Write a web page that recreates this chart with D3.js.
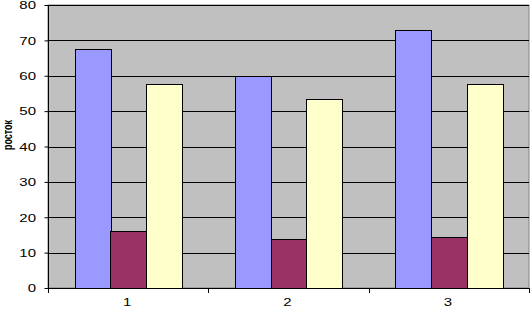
<!DOCTYPE html>
<html><head><meta charset="utf-8">
<script src="https://cdn.jsdelivr.net/npm/d3@7"></script>
<style>body{margin:0;background:#fff}svg{display:block}</style>
</head><body><svg id="c" width="531" height="309"></svg>
<script>
const categories = ["1","2","3"];
const series1 = [67.7, 59.8, 73.0];
const series2 = [16.2, 13.8, 14.3];
const series3 = [57.6, 53.4, 57.6];
const yTicks = [0,10,20,30,40,50,60,70,80];
const colors = ["#9999ff","#993366","#ffffcc"];
const yLabel = "росток";

const FONT = "Arial, Liberation Sans, sans-serif";
const svg = d3.select("#c");
const m = {l:48, r:2, t:5, b:21};
const W = 531, H = 309;
const x = d3.scaleBand().domain(categories).range([m.l, W-m.r]).paddingInner(0).paddingOuter(0);
const y = d3.scaleLinear().domain([0,80]).range([H-m.b, m.t]);
const series = [series1, series2, series3];
const gap = 1.5;
const bw = x.bandwidth()/(3+gap);
const x1 = d3.scaleBand().domain([0,1,2]).range([bw*gap/2, bw*gap/2+3*bw]).padding(0);

svg.append("rect").attr("x",m.l).attr("y",m.t).attr("width",W-m.r-m.l).attr("height",H-m.b-m.t)
  .attr("fill","#c0c0c0").attr("stroke","#808080").attr("stroke-width",1);

svg.append("g").selectAll("line").data(yTicks.filter(d=>d>0)).join("line")
  .attr("x1",m.l).attr("x2",W-m.r).attr("y1",d=>Math.round(y(d))+0.5).attr("y2",d=>Math.round(y(d))+0.5)
  .attr("stroke","#000").attr("stroke-width",1);

series.forEach((s,i)=>{
  svg.append("g").selectAll("rect").data(s).join("rect")
    .attr("x",(d,j)=>Math.round(x(categories[j])+x1(i))+0.5)
    .attr("y",d=>Math.round(y(d))+0.5)
    .attr("width",Math.round(x1.bandwidth()))
    .attr("height",d=>Math.round(y(0))-Math.round(y(d)))
    .attr("fill",colors[i]).attr("stroke","#000").attr("stroke-width",1);
});

// Y axis
const ya = svg.append("g").attr("transform",`translate(${m.l+0.5},0)`)
  .call(d3.axisLeft(y).tickValues(yTicks).tickSize(4).tickFormat(""));
ya.select(".domain").attr("d",`M0,${m.t}V${Math.round(y(0))+0.5}`);
svg.append("g").selectAll("text").data(yTicks).join("text")
  .attr("transform",d=>`translate(36,${y(d)+4.3}) scale(1.5,1)`)
  .attr("text-anchor","end").attr("font-family",FONT).attr("font-size",10).attr("fill","#000")
  .text(d=>d);

// X axis
const xa = svg.append("g").attr("transform",`translate(0,${Math.round(y(0))+0.5})`)
  .call(d3.axisBottom(x).tickSize(0).tickFormat(""));
xa.select(".domain").attr("d",`M${m.l},0H${W-m.r}`);
svg.append("g").selectAll("line").data(d3.range(categories.length+1)).join("line")
  .attr("x1",d=>Math.round(m.l+d*x.step())+0.5).attr("x2",d=>Math.round(m.l+d*x.step())+0.5)
  .attr("y1",Math.round(y(0))).attr("y2",Math.round(y(0))+5).attr("stroke","#000");
svg.append("g").selectAll("text").data(categories).join("text")
  .attr("transform",d=>`translate(${x(d)+x.bandwidth()/2-1},305.5) scale(1.5,1)`)
  .attr("text-anchor","middle").attr("font-family",FONT).attr("font-size",10).attr("fill","#000")
  .text(d=>d);

svg.append("text").attr("transform",`translate(11.5,135) scale(1.5,1) rotate(-90)`)
  .attr("text-anchor","middle").attr("font-family",FONT)
  .attr("font-size",9).attr("font-weight","bold").text(yLabel);
</script></body></html>
